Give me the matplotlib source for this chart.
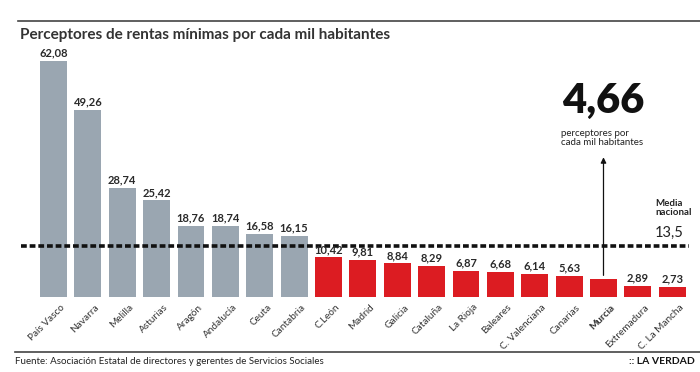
import matplotlib.pyplot as plt
from matplotlib.lines import Line2D

plt.rcParams['font.family'] = ['Lato', 'DejaVu Sans']

# datos
regiones = ['País Vasco', 'Navarra', 'Melilla', 'Asturias', 'Aragón', 'Andalucía',
            'Ceuta', 'Cantabria', 'C.León', 'Madrid', 'Galicia', 'Cataluña',
            'La Rioja', 'Baleares', 'C. Valenciana', 'Canarias', 'Murcia',
            'Extremadura', 'C. La Mancha']
valores = [62.08, 49.26, 28.74, 25.42, 18.76, 18.74, 16.58, 16.15, 10.42, 9.81,
           8.84, 8.29, 6.87, 6.68, 6.14, 5.63, 4.66, 2.89, 2.73]
media = 13.5
destacada = 'Murcia'

gris = '#9aa6b1'
rojo = '#dc1c22'

fig = plt.figure(figsize=(7, 3.72), dpi=100)
ax = fig.add_axes([0.0519, 0.2016, 0.933, 0.715])

colores = [gris if v > media else rojo for v in valores]
x = list(range(len(regiones)))
ax.bar(x, valores, width=0.78, color=colores)
ax.set_xlim(-0.5, len(regiones) - 0.5)
ax.set_ylim(0, 70)
ax.axis('off')

# etiquetas de valor
for i, v in enumerate(valores):
    if regiones[i] == destacada:
        continue
    ax.text(i, v + 0.6, f'{v:.2f}'.replace('.', ','), ha='center', va='bottom',
            fontsize=8, fontweight='bold', color='#2a2a2a')

# etiquetas de categoría
for i, r in enumerate(regiones):
    ax.text(i + 0.2, -1.5, r, rotation=45, ha='right', va='top', rotation_mode='anchor',
            fontsize=7.2, color='#333333',
            fontweight='bold' if r == destacada else 'normal')

# media nacional
ax.plot([-0.95, len(regiones) - 0.5], [media, media], color='#111111', lw=2.6,
        linestyle=(0, (1.6, 0.8)), clip_on=False)
ax.text(17.5, media + 7.6, 'Media\nnacional', ha='left', va='bottom',
        fontsize=7, color='#222222', linespacing=1.0, fontweight='bold')
ax.text(17.5, media + 1.6, '13,5', ha='left', va='bottom',
        fontsize=10.5, color='#222222')

# anotación Murcia
im = regiones.index(destacada)
vm = valores[im]
ax.annotate('', xy=(im, 37.5), xytext=(im, vm + 0.3),
            arrowprops=dict(arrowstyle='-|>', color='#111111', lw=0.9, mutation_scale=8))
ax.text(im, 46.5, f'{vm:.2f}'.replace('.', ','), ha='center', va='bottom',
        fontsize=30, fontweight='heavy', color='#111111')
ax.text(im - 1.25, 39.5, 'perceptores por\ncada mil habitantes', ha='left', va='bottom',
        fontsize=7, color='#222222', linespacing=0.95)

# título, líneas y fuente
fig.text(0.028, 0.905, 'Perceptores de rentas mínimas por cada mil habitantes',
         fontsize=11, fontweight='bold', color='#333333', va='center')
fig.add_artist(Line2D([0.026, 1.0], [0.944, 0.944], color='#444444', lw=1.2))
fig.add_artist(Line2D([0.021, 1.0], [0.054, 0.054], color='#444444', lw=1.2))
fig.text(0.022, 0.028, 'Fuente: Asociación Estatal de directores y gerentes de Servicios Sociales',
         fontsize=7, color='#222222', va='center')
fig.text(0.993, 0.028, ':: LA VERDAD', fontsize=7.5, fontweight='bold', color='#111111',
         va='center', ha='right')

fig.savefig('out.png', dpi=100, facecolor='white')
